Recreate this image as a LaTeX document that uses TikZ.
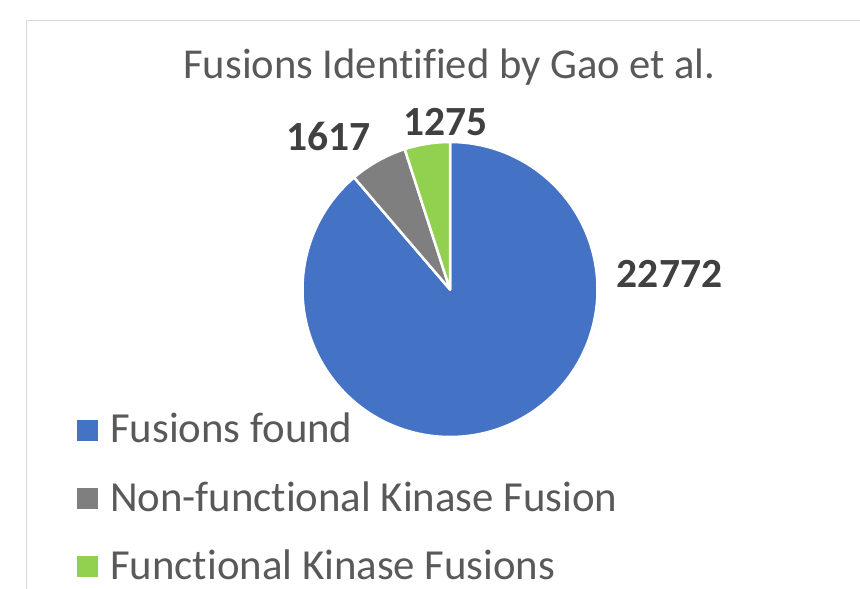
\documentclass[tikz,border=0pt]{standalone}
\usepackage{fontspec}
\setmainfont[Ligatures={NoCommon,NoContextual}]{Carlito}
\definecolor{pieblue}{HTML}{4472C4}
\definecolor{piegray}{HTML}{7F7F7F}
\definecolor{piegreen}{HTML}{92D050}
\definecolor{txtgray}{HTML}{595959}
\definecolor{lblgray}{HTML}{404040}
\definecolor{framegray}{HTML}{D9D9D9}
\begin{document}
\begin{tikzpicture}[x=1pt,y=-1pt,
  slice/.style={draw=white,line width=2.5pt,line join=round},
  legtext/.style={anchor=base west,inner sep=0pt,text=txtgray,font=\fontsize{42.8}{50}\selectfont},
  legbox/.style={minimum width=20.5pt,minimum height=20.5pt,inner sep=0pt,anchor=south west},
  datalbl/.style={anchor=base,inner sep=0pt,text=lblgray,font=\bfseries\fontsize{41.5}{50}\selectfont}]
\useasboundingbox (0,0) rectangle (860,589);
\fill[white] (0,0) rectangle (860,589);
\draw[framegray,line width=1pt] (26,589) -- (26,20) -- (860,20);
\coordinate (c) at (450,289.5);
\path[slice,fill=pieblue] (c) -- ++(-130.568:147.5) arc[start angle=-130.568,end angle=-450,radius=147.5] -- cycle;
\path[slice,fill=piegray] (c) -- ++(-107.885:147.5) arc[start angle=-107.885,end angle=-130.568,radius=147.5] -- cycle;
\path[slice,fill=piegreen] (c) -- ++(-90:147.5) arc[start angle=-90,end angle=-107.885,radius=147.5] -- cycle;
\node[anchor=base,inner sep=0pt,text=txtgray,font=\fontsize{42.6}{50}\selectfont] (title) at (449.5,78) {Fusions Identified by Gao et al.};
\node[datalbl] (l1) at (669.5,287) {22772};
\node[datalbl] (l2) at (328.5,150) {1617};
\node[datalbl] (l3) at (445.5,135) {1275};
\node[legbox,fill=pieblue] (b1) at (77,441) {};
\node[legbox,fill=piegray] (b2) at (77,509) {};
\node[legbox,fill=piegreen] (b3) at (77,577) {};
\node[legtext] (t1) at (110,442) {Fusions found};
\node[legtext] (t2) at (110,511) {Non-functional Kinase Fusion};
\node[legtext] (t3) at (110,579) {Functional Kinase Fusions};
\end{tikzpicture}
\end{document}
